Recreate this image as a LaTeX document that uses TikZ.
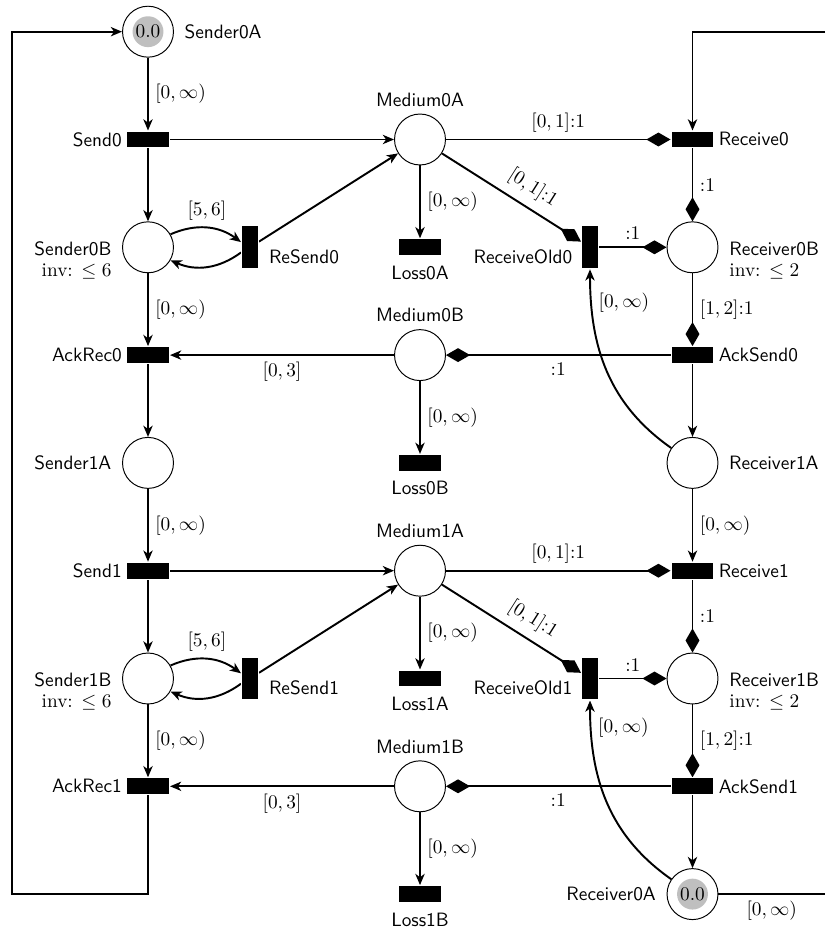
\documentclass[tikz,border=0pt]{standalone}
\usetikzlibrary{arrows.meta}
\pgfdeclarelayer{bg}
\pgfsetlayers{bg,main}
\begin{document}
\begin{tikzpicture}[
  x=0.518pt, y=0.518pt,
  place/.style={circle, draw, line width=0.5pt, fill=white, minimum size=26.4pt, inner sep=0pt},
  token/.style={path picture={\fill[gray!50] (path picture bounding box.center) circle[radius=8pt];}},
  htrans/.style={rectangle, fill=black, draw=white, line width=0.6pt, minimum width=22.2pt, minimum height=8.7pt, inner sep=0pt},
  vtrans/.style={htrans, minimum width=8.7pt, minimum height=22.2pt},
  lab/.style={font=\sffamily},
  plab/.style={lab, label distance=2pt},
  tlab/.style={lab, inner sep=2pt},
  arc/.style={line width=1pt, -{Stealth[length=5.8pt,width=4.8pt,inset=1.7pt]}},
  rd/.style={line width=1pt, -{Diamond[length=12.5pt,width=7.2pt]}},
  ln/.style={line width=1pt}
]
\useasboundingbox (0,0) rectangle (825,-928);

% ---------- nodes: first half ----------
\node[place, token, label={[plab]right:Sender0A}] (Sender0A) at (148,-31.7) {$0.0$};
\node[htrans, label={[tlab]left:Send0}] (Send0) at (148,-139.5) {};
\node[place, label={[lab]above:Medium0A}] (Medium0A) at (420,-139.5) {};
\node[htrans, label={[tlab]right:Receive0}] (Receive0) at (692.5,-139.5) {};
\node[place, label={[lab, align=right, anchor=north east, inner sep=0pt, xshift=-5.3pt, yshift=3.1pt]left:{Sender0B\\[-1pt]\rmfamily inv: $\leq 6$}}] (Sender0B) at (148,-247.3) {};
\node[vtrans, label={[lab, anchor=west, inner sep=0pt, xshift=5pt, yshift=-5pt]right:ReSend0}] (ReSend0) at (250,-247.3) {};
\node[htrans, label={[lab, label distance=1.5pt]below:Loss0A}] (Loss0A) at (420,-247.3) {};
\node[vtrans, label={[lab, anchor=east, inner sep=0pt, xshift=-4.3pt, yshift=-4.9pt]left:ReceiveOld0}] (ReceiveOld0) at (590,-247.3) {};
\node[place, label={[lab, align=left, anchor=north west, inner sep=0pt, xshift=5.5pt, yshift=3.1pt]right:{Receiver0B\\[-1pt]\rmfamily inv: $\leq 2$}}] (Receiver0B) at (692.5,-247.3) {};
\node[htrans, label={[tlab]left:AckRec0}] (AckRec0) at (148,-355.1) {};
\node[place, label={[lab]above:Medium0B}] (Medium0B) at (420,-355.1) {};
\node[htrans, label={[tlab]right:AckSend0}] (AckSend0) at (692.5,-355.1) {};
\node[place, label={[plab]left:Sender1A}] (Sender1A) at (148,-462.9) {};
\node[htrans, label={[lab, label distance=1.5pt]below:Loss0B}] (Loss0B) at (420,-462.9) {};
\node[place, label={[plab]right:Receiver1A}] (Receiver1A) at (692.5,-462.9) {};

% ---------- nodes: second half ----------
\node[htrans, label={[tlab]left:Send1}] (Send1) at (148,-570.7) {};
\node[place, label={[lab]above:Medium1A}] (Medium1A) at (420,-570.7) {};
\node[htrans, label={[tlab]right:Receive1}] (Receive1) at (692.5,-570.7) {};
\node[place, label={[lab, align=right, anchor=north east, inner sep=0pt, xshift=-5.3pt, yshift=3.1pt]left:{Sender1B\\[-1pt]\rmfamily inv: $\leq 6$}}] (Sender1B) at (148,-678.5) {};
\node[vtrans, label={[lab, anchor=west, inner sep=0pt, xshift=5pt, yshift=-5pt]right:ReSend1}] (ReSend1) at (250,-678.5) {};
\node[htrans, label={[lab, label distance=1.5pt]below:Loss1A}] (Loss1A) at (420,-678.5) {};
\node[vtrans, label={[lab, anchor=east, inner sep=0pt, xshift=-4.3pt, yshift=-4.9pt]left:ReceiveOld1}] (ReceiveOld1) at (590,-678.5) {};
\node[place, label={[lab, align=left, anchor=north west, inner sep=0pt, xshift=5.5pt, yshift=3.1pt]right:{Receiver1B\\[-1pt]\rmfamily inv: $\leq 2$}}] (Receiver1B) at (692.5,-678.5) {};
\node[htrans, label={[tlab]left:AckRec1}] (AckRec1) at (148,-786.3) {};
\node[place, label={[lab]above:Medium1B}] (Medium1B) at (420,-786.3) {};
\node[htrans, label={[tlab]right:AckSend1}] (AckSend1) at (692.5,-786.3) {};
\node[htrans, label={[lab, label distance=1.5pt]below:Loss1B}] (Loss1B) at (420,-894.1) {};
\node[place, token, label={[plab]left:Receiver0A}] (Receiver0A) at (692.5,-894.1) {$0.0$};

\coordinate (loopBL) at (12,-894.1);
\coordinate (loopTL) at (12,-31.7);
\coordinate (entR) at (825,-31.7);
\coordinate (exitR) at (825,-894.1);

\begin{pgfonlayer}{bg}
% ---------- arcs: first half ----------
\draw[arc] (Sender0A) -- node[right]{$[0,\infty)$} (Send0);
\draw[arc] (Send0) -- (Medium0A);
\draw[arc] (Send0) -- (Sender0B);
\draw[arc] (Sender0B) to[bend left=30] node[above]{$[5,6]$} (ReSend0);
\draw[arc] (ReSend0) to[bend left=30] (Sender0B);
\draw[arc] (ReSend0) -- (Medium0A);
\draw[arc] (Medium0A) -- node[right]{$[0,\infty)$} (Loss0A);
\draw[rd] (Medium0A) -- node[above]{$[0,1]$:1} (Receive0);
\draw[rd] (Medium0A) -- node[sloped, above, pos=0.58, inner sep=4.5pt]{$[0,1]$:1} (ReceiveOld0);
\draw[rd] (Receive0) -- node[right]{:1} (Receiver0B);
\draw[rd] (ReceiveOld0) -- node[above]{:1} (Receiver0B);
\draw[rd] (Receiver0B) -- node[right]{$[1,2]$:1} (AckSend0);
\draw[rd] (AckSend0) -- node[below]{:1} (Medium0B);
\draw[arc] (Medium0B) -- node[below]{$[0,3]$} (AckRec0);
\draw[arc] (Medium0B) -- node[right]{$[0,\infty)$} (Loss0B);
\draw[arc] (Sender0B) -- node[right]{$[0,\infty)$} (AckRec0);
\draw[arc] (AckRec0) -- (Sender1A);
\draw[arc] (AckSend0) -- (Receiver1A);
\draw[arc] (Receiver1A) to[out=145, in=-90] node[pos=0.85, right]{$[0,\infty)$} (ReceiveOld0);
\draw[arc] (Sender1A) -- node[right]{$[0,\infty)$} (Send1);
\draw[arc] (Receiver1A) -- node[right]{$[0,\infty)$} (Receive1);

% ---------- arcs: second half ----------
\draw[arc] (Send1) -- (Medium1A);
\draw[arc] (Send1) -- (Sender1B);
\draw[arc] (Sender1B) to[bend left=30] node[above]{$[5,6]$} (ReSend1);
\draw[arc] (ReSend1) to[bend left=30] (Sender1B);
\draw[arc] (ReSend1) -- (Medium1A);
\draw[arc] (Medium1A) -- node[right]{$[0,\infty)$} (Loss1A);
\draw[rd] (Medium1A) -- node[above]{$[0,1]$:1} (Receive1);
\draw[rd] (Medium1A) -- node[sloped, above, pos=0.58, inner sep=4.5pt]{$[0,1]$:1} (ReceiveOld1);
\draw[rd] (Receive1) -- node[right]{:1} (Receiver1B);
\draw[rd] (ReceiveOld1) -- node[above]{:1} (Receiver1B);
\draw[rd] (Receiver1B) -- node[right]{$[1,2]$:1} (AckSend1);
\draw[rd] (AckSend1) -- node[below]{:1} (Medium1B);
\draw[arc] (Medium1B) -- node[below]{$[0,3]$} (AckRec1);
\draw[arc] (Medium1B) -- node[right]{$[0,\infty)$} (Loss1B);
\draw[arc] (Sender1B) -- node[right]{$[0,\infty)$} (AckRec1);
\draw[arc] (AckSend1) -- (Receiver0A);
\draw[arc] (Receiver0A) to[out=145, in=-90] node[pos=0.88, right]{$[0,\infty)$} (ReceiveOld1);

% ---------- wrap-around arcs ----------
\draw[arc] (AckRec1) |- (loopBL) -- (loopTL) -- (Sender0A);
\draw[ln] (Receiver0A) -- node[below]{$[0,\infty)$} (exitR);
\draw[arc] (entR) -| (Receive0);
\end{pgfonlayer}
\end{tikzpicture}
\end{document}
